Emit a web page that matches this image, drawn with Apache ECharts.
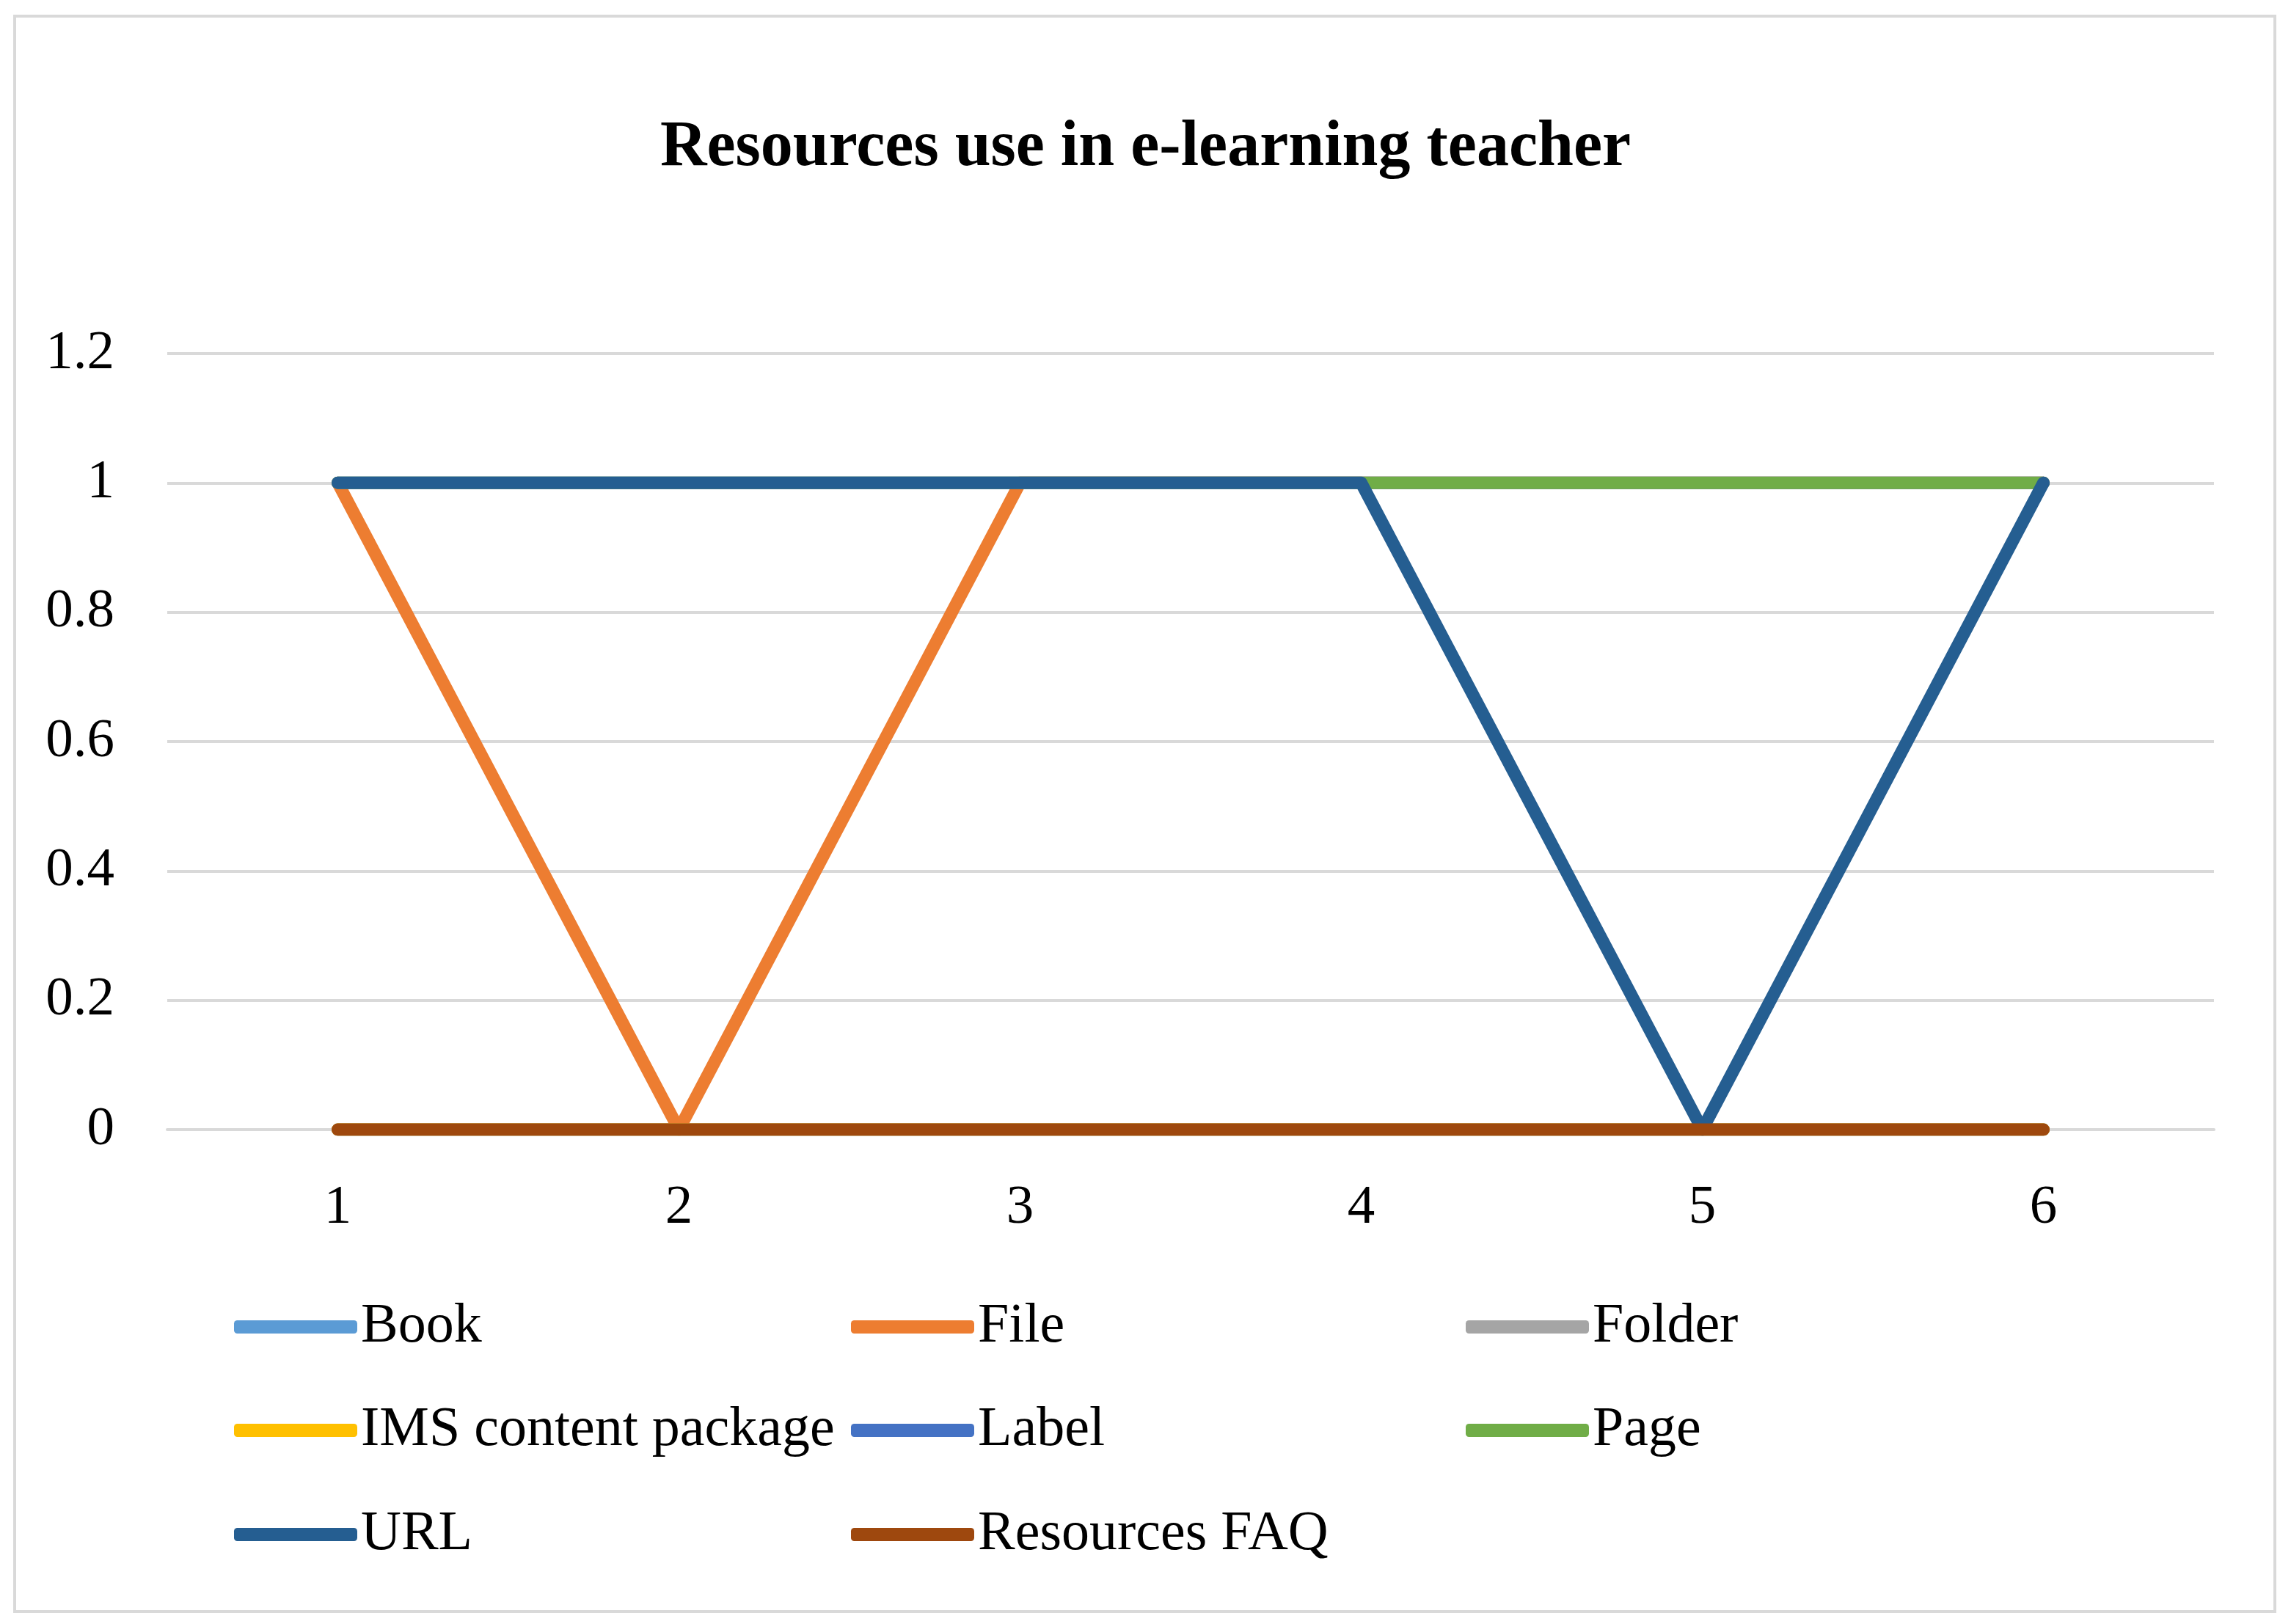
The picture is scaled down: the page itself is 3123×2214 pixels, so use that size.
<!DOCTYPE html>
<html>
<head>
<meta charset="utf-8">
<script src="https://cdn.jsdelivr.net/npm/echarts@6/dist/echarts.min.js"></script>
<style>
html,body{margin:0;padding:0;background:#fff;}
#chart{width:3123px;height:2214px;}
</style>
</head>
<body>
<div id="chart"></div>
<script>
const categories = ['1','2','3','4','5','6'];
const seriesNames = ['Book','File','Folder','IMS content package','Label','Page','URL','Resources FAQ'];
const book = [0,0,0,0,0,0];
const file = [1,0,1,1,1,1];
const folder = [0,0,0,0,0,0];
const ims = [0,0,0,0,0,0];
const label = [1,1,1,1,1,1];
const page = [1,1,1,1,1,1];
const url = [1,1,1,1,0,1];
const faq = [0,0,0,0,0,0];
const yTicks = [0,0.2,0.4,0.6,0.8,1,1.2];
const colors = ['#5B9BD5','#ED7D31','#A5A5A5','#FFC000','#4472C4','#70AD47','#255E91','#9E480E'];

const values = [book,file,folder,ims,label,page,url,faq];
const FONT = '"Liberation Serif", "DejaVu Serif", serif';

const legendPos = [
  [314,1766],[1155,1766],[1993,1766],
  [314,1907],[1155,1907],[1993,1907],
  [314,2049],[1155,2049]
];

const chart = echarts.init(document.getElementById('chart'), null, {renderer:'canvas'});
chart.setOption({
  backgroundColor:'#fff',
  color: colors,
  animation:false,
  title:{
    text:'Resources use in e-learning teacher',
    left:'center', top:153,
    textStyle:{fontFamily:FONT, fontWeight:'bold', fontSize:88, color:'#000'}
  },
  graphic:[{
    type:'rect', shape:{x:20,y:22,width:3081,height:2175},
    style:{fill:'none', stroke:'#D9D9D9', lineWidth:4}, z:-1
  }],
  legend: seriesNames.map((n,i)=>({
    data:[n], left:legendPos[i][0], top:legendPos[i][1],
    icon:'roundRect', itemWidth:168, itemHeight:18,
    textStyle:{fontFamily:FONT, fontSize:76, color:'#000'},
    selectedMode:false
  })),
  grid:{left:228, right:105, top:482, bottom:674, containLabel:false},
  xAxis:{
    type:'category', data:categories, boundaryGap:true,
    axisLine:{show:true, lineStyle:{color:'#D9D9D9', width:4}},
    axisTick:{show:false},
    axisLabel:{fontFamily:FONT, fontSize:75, color:'#000', margin:70}
  },
  yAxis:{
    type:'value', min:0, max:1.2, interval:0.2,
    axisLine:{show:false}, axisTick:{show:false},
    splitLine:{lineStyle:{color:'#D9D9D9', width:4}},
    axisLabel:{fontFamily:FONT, fontSize:75, color:'#000', margin:72,
      formatter:v=>{const t=yTicks.find(x=>Math.abs(x-v)<1e-9); return String(t!==undefined?t:v);}}
  },
  series: seriesNames.map((n,i)=>({
    name:n, type:'line', data:values[i], showSymbol:false, symbol:'none',
    lineStyle:{width:17, color:colors[i], cap:'round', join:'round'},
    itemStyle:{color:colors[i]}
  }))
});
</script>
</body>
</html>
